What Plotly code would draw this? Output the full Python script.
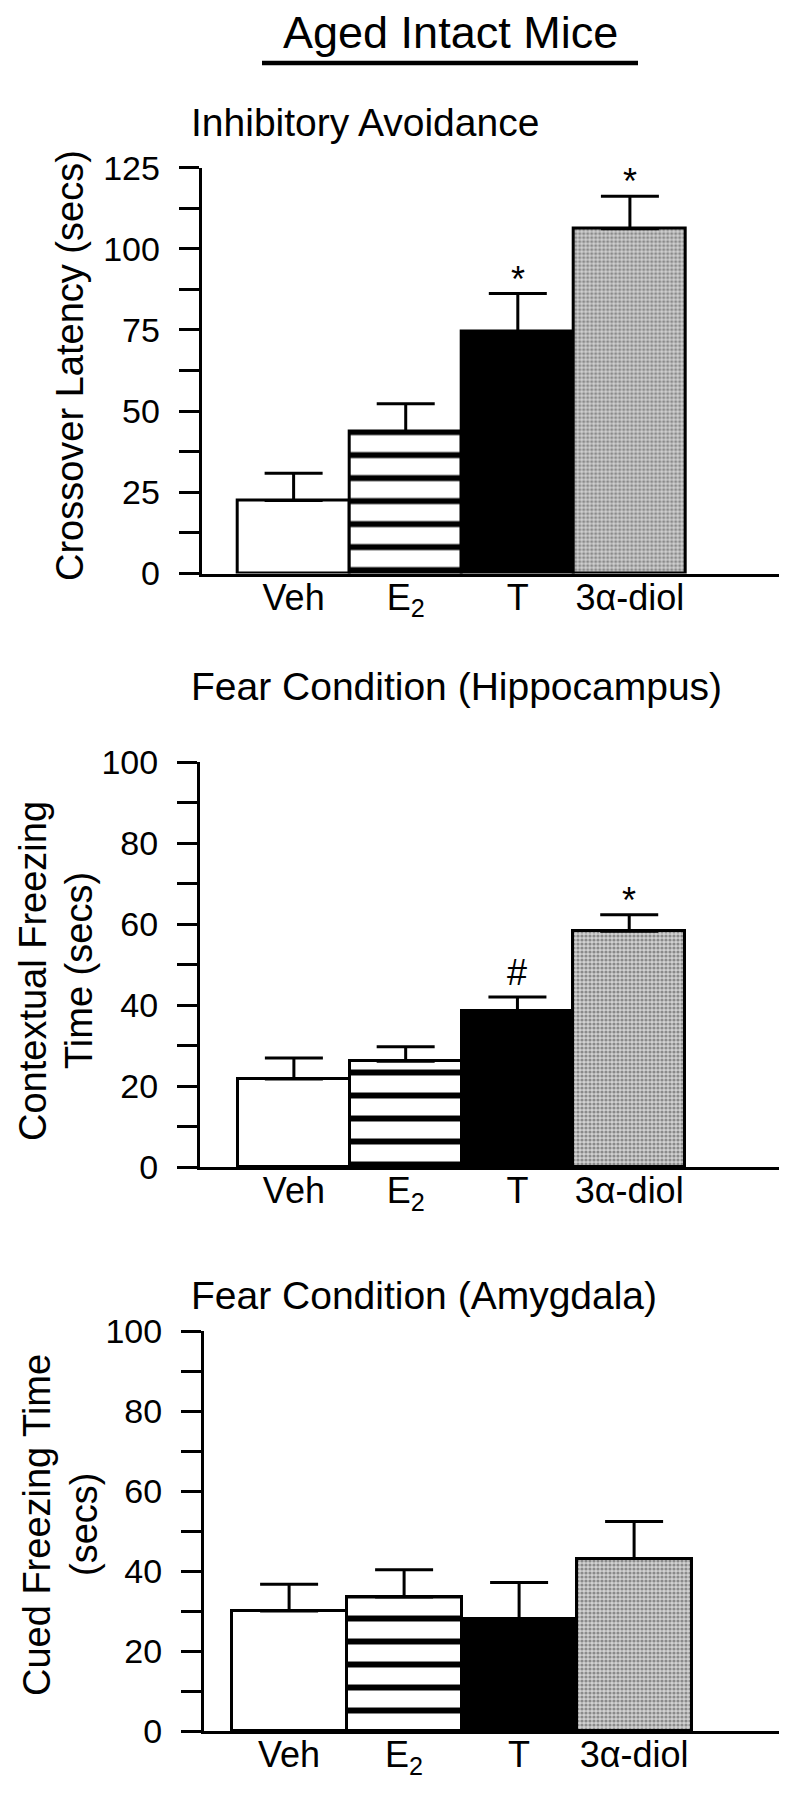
import plotly.graph_objects as go

# ---------------- data ----------------
categories = ["Veh", "E<sub>2</sub>", "T", "3α-diol"]

ia_mean = [22.5, 43.6, 74.5, 106.2]
ia_sem = [8.4, 8.7, 11.7, 10.0]
ia_sig = ["", "", "*", "*"]
ia_ticks = [0, 25, 50, 75, 100, 125]

hip_mean = [21.7, 26.1, 38.4, 58.2]
hip_sem = [5.2, 3.6, 3.6, 4.1]
hip_sig = ["", "", "#", "*"]
hip_ticks = [0, 20, 40, 60, 80, 100]

amy_mean = [30.0, 33.5, 28.0, 43.1]
amy_sem = [6.7, 6.8, 9.1, 9.3]
amy_sig = ["", "", "", ""]
amy_ticks = [0, 20, 40, 60, 80, 100]

main_title = "Aged Intact Mice"
panel_titles = ["Inhibitory Avoidance", "Fear Condition (Hippocampus)", "Fear Condition (Amygdala)"]
y_titles = [["Crossover Latency (secs)"],
            ["Contextual Freezing", "Time (secs)"],
            ["Cued Freezing Time", "(secs)"]]

# ---------------- style ----------------
PAGE_OFF = 8                      # default body margin of the html page
W, H = 800 - 2 * PAGE_OFF, 1801 - 2 * PAGE_OFF
FONT = "Liberation Sans, Arial, Helvetica, sans-serif"
bar_styles = [
    dict(color="white", pattern=None),
    dict(color="white", pattern=dict(shape="-", fgcolor="black", bgcolor="white",
                                     size=23, solidity=0.26, fillmode="replace")),
    dict(color="black", pattern=None),
    dict(color="#c4c4c4", pattern=dict(shape=".", fgcolor="#8a8a8a", bgcolor="#d2d2d2",
                                       size=4, solidity=0.5, fillmode="replace")),
]


def px_x(p):
    return (p - PAGE_OFF) / W


def px_y(p):
    return 1 - (p - PAGE_OFF) / H


# per panel layout geometry (page pixels)
panels = [
    dict(mean=ia_mean, sem=ia_sem, sig=ia_sig, ticks=ia_ticks, minor=12.5,
         ax_left=201.7, ax_right=779, y0=573.5, ytop=167.6, xr=[-0.82, 4.33],
         title_y=123, ytitle_x=[70], ytitle_y=366),
    dict(mean=hip_mean, sem=hip_sem, sig=hip_sig, ticks=hip_ticks, minor=10,
         ax_left=200, ax_right=779, y0=1167, ytop=762, xr=[-0.84, 4.34],
         title_y=686, ytitle_x=[33, 79], ytitle_y=971),
    dict(mean=amy_mean, sem=amy_sem, sig=amy_sig, ticks=amy_ticks, minor=10,
         ax_left=204, ax_right=779, y0=1731, ytop=1331, xr=[-0.74, 4.26],
         title_y=1295, ytitle_x=[37, 84], ytitle_y=1525),
]

fig = go.Figure()
annotations = []
layout_axes = {}

for i, p in enumerate(panels):
    n = "" if i == 0 else str(i + 1)
    for j, cat in enumerate(categories):
        st = bar_styles[j]
        marker = dict(color=st["color"], line=dict(color="black", width=3))
        if st["pattern"] is not None:
            marker["pattern"] = st["pattern"]
        fig.add_trace(go.Bar(
            x=[j], y=[p["mean"][j]], width=1.0,
            marker=marker,
            error_y=dict(type="data", symmetric=False, array=[p["sem"][j]],
                         arrayminus=[0], color="black", thickness=3, width=29),
            xaxis="x" + n, yaxis="y" + n,
            showlegend=False, hoverinfo="skip",
        ))
    layout_axes["xaxis" + n] = dict(
        domain=[px_x(p["ax_left"]), px_x(p["ax_right"])],
        range=p["xr"], anchor="y" + n, automargin=False,
        tickmode="array", tickvals=list(range(len(categories))), ticktext=categories,
        ticks="", showline=True, linecolor="black", linewidth=3,
        showgrid=False, zeroline=False,
        tickfont=dict(family=FONT, size=36, color="black"),
        ticklabelstandoff=-10,
    )
    ticks = p["ticks"]
    layout_axes["yaxis" + n] = dict(
        domain=[px_y(p["y0"]), px_y(p["ytop"])],
        range=[ticks[0], ticks[-1]], anchor="x" + n, automargin=False,
        tickmode="array", tickvals=ticks,
        ticks="outside", ticklen=20, tickwidth=3, tickcolor="black",
        minor=dict(dtick=p["minor"], tick0=0, ticks="outside", ticklen=20,
                   tickwidth=2.5, tickcolor="black", showgrid=False),
        showline=True, linecolor="black", linewidth=3,
        showgrid=False, zeroline=False,
        tickfont=dict(family=FONT, size=34, color="black"),
        ticklabelstandoff=12,
    )
    # panel title
    annotations.append(dict(
        text=panel_titles[i], xref="paper", yref="paper",
        x=px_x(189), y=px_y(p["title_y"]), xanchor="left", yanchor="middle",
        showarrow=False, font=dict(family=FONT, size=39, color="black"),
    ))
    # y title (one annotation per line)
    for k, line in enumerate(y_titles[i]):
        annotations.append(dict(
            text=line, xref="paper", yref="paper",
            x=px_x(p["ytitle_x"][k]), y=px_y(p["ytitle_y"]), xanchor="center", yanchor="middle",
            textangle=-90, showarrow=False, font=dict(family=FONT, size=38, color="black"),
        ))
    # significance marks
    for j, s in enumerate(p["sig"]):
        if s:
            annotations.append(dict(
                text=s, x=j, y=p["mean"][j] + p["sem"][j],
                xref="x" + n, yref="y" + n, xanchor="center", yanchor="bottom",
                yshift=-8 if s == "*" else 2, showarrow=False,
                font=dict(family=FONT, size=36, color="black"),
            ))

# main title
annotations.append(dict(
    text=main_title, xref="paper", yref="paper",
    x=px_x(450), y=px_y(33), xanchor="center", yanchor="middle",
    showarrow=False, font=dict(family=FONT, size=45, color="black"),
))

fig.update_layout(
    width=W, height=H,
    margin=dict(l=0, r=0, t=0, b=0, autoexpand=False),
    paper_bgcolor="white", plot_bgcolor="white",
    showlegend=False, bargap=0, barmode="overlay",
    annotations=annotations,
    shapes=[dict(type="line", xref="paper", yref="paper",
                 x0=px_x(262), x1=px_x(638), y0=px_y(63), y1=px_y(63),
                 line=dict(color="black", width=4.5))],
    **layout_axes,
)

fig.write_html("out.html")
